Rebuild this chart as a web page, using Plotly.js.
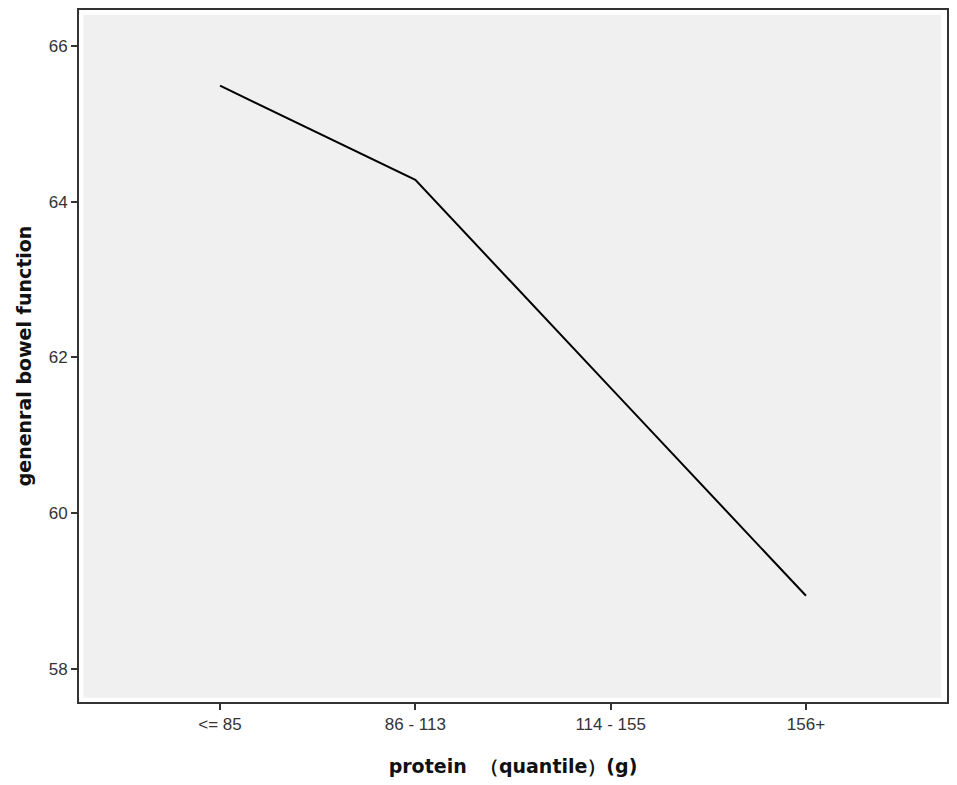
<!DOCTYPE html>
<html>
<head>
<meta charset="utf-8">
<script src="https://cdn.plot.ly/plotly-3.0.1.min.js"></script>
<style>
  body { margin: 0; background: #fff; }
  #chart { width: 957px; height: 785px; }
</style>
</head>
<body>
<div id="chart"></div>
<script>
// protein quantile groups and mean general bowel function
const categories = ['<= 85', '86 - 113', '114 - 155', '156+'];
const bowelFunction = [65.49, 64.28, 61.61, 58.94];
const yTicks = [58, 60, 62, 64, 66];

const trace = {
  x: [0, 1, 2, 3],
  y: bowelFunction,
  type: 'scatter',
  mode: 'lines',
  line: { color: '#000', width: 2 },
  hoverinfo: 'skip'
};

const tickFont = { family: 'Liberation Sans, Arial, sans-serif', size: 17, color: '#333' };
const titleFont = { family: 'DejaVu Sans, Verdana, sans-serif', size: 19, color: '#111' };

const layout = {
  width: 957,
  height: 785,
  margin: { l: 79, r: 10, t: 10, b: 83 },
  paper_bgcolor: '#fff',
  plot_bgcolor: '#fff',
  showlegend: false,
  xaxis: {
    range: [-0.722, 3.722],
    tickmode: 'array',
    tickvals: [0, 1, 2, 3],
    ticktext: categories,
    ticks: 'outside',
    ticklen: 6,
    tickwidth: 2,
    tickcolor: '#333',
    tickfont: tickFont,
    showgrid: false,
    zeroline: false,
    showline: true,
    mirror: true,
    linecolor: '#333',
    linewidth: 2,
    title: { text: '<b>protein \u00a0（quantile）(g)</b>', font: titleFont, standoff: 26 }
  },
  yaxis: {
    range: [57.576, 66.462],
    tickmode: 'array',
    tickvals: yTicks,
    ticks: 'outside',
    ticklen: 6,
    tickwidth: 2,
    tickcolor: '#333',
    tickfont: tickFont,
    showgrid: false,
    zeroline: false,
    showline: true,
    mirror: true,
    linecolor: '#333',
    linewidth: 2,
    title: { text: '<b>genenral bowel function</b>', font: titleFont, standoff: 12 }
  },
  shapes: [{
    // grey panel sits a few pixels inside the frame
    type: 'rect', xref: 'paper', yref: 'paper', layer: 'below',
    x0: 0.005, x1: 0.993, y0: 0.006, y1: 0.993,
    fillcolor: '#f0f0f0', line: { width: 0 }
  }]
};

Plotly.newPlot('chart', [trace], layout, { displayModeBar: false, staticPlot: true });
</script>
</body>
</html>
